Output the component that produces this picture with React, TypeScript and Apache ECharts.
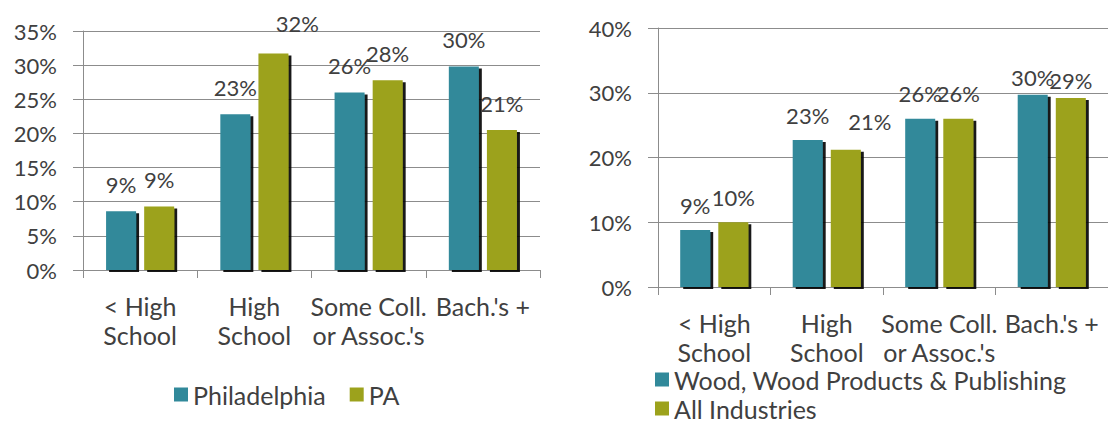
import React, { useEffect, useRef } from "react";
import * as echarts from "echarts";

const categories = ["< High\nSchool", "High\nSchool", "Some Coll.\nor Assoc.'s", "Bach.'s +"];
const philadelphia = [8.6, 22.8, 26.0, 29.8];
const pa = [9.3, 31.7, 27.8, 20.5];
const wood = [8.8, 22.7, 26.0, 29.7];
const allIndustries = [10.0, 21.2, 26.0, 29.2];
const leftSeriesNames = ["Philadelphia", "PA"];
const rightSeriesNames = ["Wood, Wood Products & Publishing", "All Industries"];

const TEAL = "#31899a";
const OLIVE = "#9ca21c";
const TEXT = "#404040";
const GRID = "#8c8c8c";
const FONT = "Lato";
const NUM_FS = 22;
const TXT_FS = 25;

export default function App() {
  const ref = useRef<HTMLDivElement>(null);
  useEffect(() => {
    if (!ref.current) return;
    const chart = echarts.init(ref.current, null, { renderer: "svg" });

    const labelFmt = (p: any) => Math.round(p.value) + "%";
    const itemStyle = (color: string) => ({
      color,
      shadowColor: "rgba(0,0,0,0.9)",
      shadowOffsetX: 3,
      shadowOffsetY: 2,
      shadowBlur: 1,
    });
    const baseLabel = (dist: number) => ({
      show: true,
      position: "top",
      distance: dist,
      formatter: labelFmt,
      color: TEXT,
      fontFamily: FONT,
      fontSize: NUM_FS,
    });
    const withOffsets = (arr: number[], offsets: Record<number, number[]>) =>
      arr.map((v, i) => (offsets[i] ? { value: v, label: { offset: offsets[i] } } : v));

    const xAxisBase = (gridIndex: number) => ({
      type: "category",
      gridIndex,
      data: categories,
      axisLine: { show: true, lineStyle: { color: GRID, width: 1 } },
      axisTick: { show: true, length: 8, lineStyle: { color: GRID } },
      axisLabel: {
        interval: 0,
        color: TEXT,
        fontFamily: FONT,
        fontSize: TXT_FS,
        lineHeight: 29,
        margin: 21,
      },
    });
    const yAxisBase = (gridIndex: number, max: number, interval: number) => ({
      type: "value",
      gridIndex,
      min: 0,
      max,
      interval,
      axisLine: { show: true, lineStyle: { color: GRID, width: 1 } },
      axisTick: { show: true, length: 10, lineStyle: { color: GRID } },
      splitLine: { show: true, lineStyle: { color: GRID, width: 1 } },
      axisLabel: {
        formatter: "{value}%",
        color: TEXT,
        fontFamily: FONT,
        fontSize: NUM_FS,
        margin: 26,
      },
    });
    const legendBase = {
      icon: "rect",
      itemWidth: 14,
      itemHeight: 14,
      padding: 0,
      textStyle: { color: TEXT, fontFamily: FONT, fontSize: TXT_FS, lineHeight: 24 },
    };

    chart.setOption({
      animation: false,
      backgroundColor: "#ffffff",
      textStyle: { fontFamily: FONT },
      grid: [
        { left: 83, top: 31, width: 457, height: 239 },
        { left: 658, top: 28, width: 459, height: 259 },
      ],
      xAxis: [xAxisBase(0), xAxisBase(1)],
      yAxis: [yAxisBase(0, 35, 5), yAxisBase(1, 40, 10)],
      legend: [
        { ...legendBase, data: leftSeriesNames, left: 174, top: 382, orient: "horizontal", itemGap: 24 },
        { ...legendBase, data: [rightSeriesNames[0]], left: 655, top: 367 },
        { ...legendBase, data: [rightSeriesNames[1]], left: 655, top: 396 },
      ],
      series: [
        {
          name: leftSeriesNames[0],
          type: "bar",
          xAxisIndex: 0,
          yAxisIndex: 0,
          data: philadelphia,
          barWidth: 30,
          barGap: "27%",
          itemStyle: itemStyle(TEAL),
          label: baseLabel(16),
        },
        {
          name: leftSeriesNames[1],
          type: "bar",
          xAxisIndex: 0,
          yAxisIndex: 0,
          data: withOffsets(pa, { 1: [24, -3] }),
          barWidth: 30,
          barGap: "27%",
          itemStyle: itemStyle(OLIVE),
          label: baseLabel(16),
        },
        {
          name: rightSeriesNames[0],
          type: "bar",
          xAxisIndex: 1,
          yAxisIndex: 1,
          data: withOffsets(wood, { 3: [0, 8] }),
          barWidth: 30,
          barGap: "27%",
          itemStyle: itemStyle(TEAL),
          label: baseLabel(14),
        },
        {
          name: rightSeriesNames[1],
          type: "bar",
          xAxisIndex: 1,
          yAxisIndex: 1,
          data: withOffsets(allIndustries, { 1: [24, -3], 3: [0, 8] }),
          barWidth: 30,
          barGap: "27%",
          itemStyle: itemStyle(OLIVE),
          label: baseLabel(14),
        },
      ],
    });
    return () => chart.dispose();
  }, []);

  return (
    <div
      ref={ref}
      style={{ position: "fixed", left: 0, top: 0, width: 1108, height: 423, background: "#fff" }}
    />
  );
}
